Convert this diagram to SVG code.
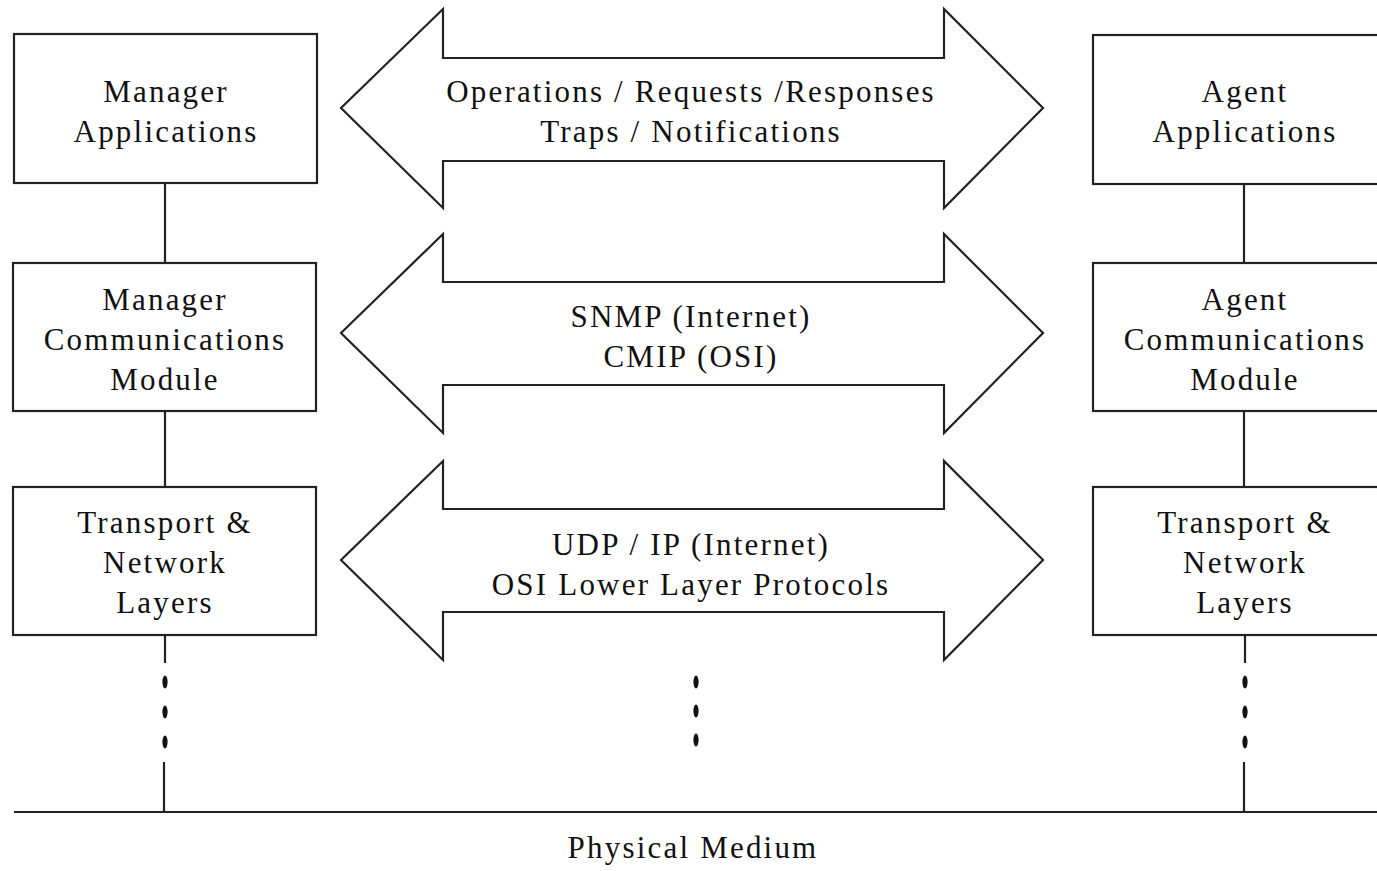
<svg xmlns="http://www.w3.org/2000/svg" width="1377" height="871" viewBox="0 0 1377 871">
  <style>
    .box { fill: #ffffff; stroke: #222222; stroke-width: 2.2; }
    .arrow { fill: #ffffff; stroke: #222222; stroke-width: 2.2; stroke-linejoin: miter; }
    .link { stroke: #222222; stroke-width: 2.2; fill: none; }
    .dot { fill: #111111; }
    .lbl { font-family: "Liberation Serif", "Times New Roman", serif; font-size: 31px; fill: #111111; text-anchor: middle; letter-spacing: 2.2px; }
  </style>
  <rect width="1377" height="871" fill="#ffffff"/>

  <!-- vertical stacks and the shared physical medium -->
  <g id="connectors">
    <line class="link" x1="165" y1="183" x2="165" y2="263"/>
    <line class="link" x1="165" y1="411" x2="165" y2="487"/>
    <line class="link" x1="165" y1="635" x2="165" y2="663"/>
    <line class="link" x1="164" y1="762" x2="164" y2="812"/>
    <line class="link" x1="1244" y1="184" x2="1244" y2="263"/>
    <line class="link" x1="1244" y1="411" x2="1244" y2="487"/>
    <line class="link" x1="1245" y1="635" x2="1245" y2="663"/>
    <line class="link" x1="1244" y1="762" x2="1244" y2="812"/>
    <line class="link" x1="14" y1="812" x2="1377" y2="812"/>
    <ellipse class="dot" cx="165" cy="682" rx="2.6" ry="6.5"/>
    <ellipse class="dot" cx="165" cy="712" rx="2.6" ry="6.5"/>
    <ellipse class="dot" cx="165" cy="742" rx="2.6" ry="6.5"/>
    <ellipse class="dot" cx="1245" cy="682" rx="2.6" ry="6.5"/>
    <ellipse class="dot" cx="1245" cy="712" rx="2.6" ry="6.5"/>
    <ellipse class="dot" cx="1245" cy="742" rx="2.6" ry="6.5"/>
    <ellipse class="dot" cx="696" cy="682" rx="2.6" ry="6.5"/>
    <ellipse class="dot" cx="696" cy="711" rx="2.6" ry="6.5"/>
    <ellipse class="dot" cx="696" cy="740" rx="2.6" ry="6.5"/>
  </g>

  <!-- manager side -->
  <g id="manager-applications">
    <rect class="box" x="14" y="34" width="303" height="149"/>
    <text class="lbl" x="166" y="102">Manager</text>
    <text class="lbl" x="166" y="142">Applications</text>
  </g>
  <g id="manager-communications">
    <rect class="box" x="13" y="263" width="303" height="148"/>
    <text class="lbl" x="165" y="310">Manager</text>
    <text class="lbl" x="165" y="350">Communications</text>
    <text class="lbl" x="165" y="390">Module</text>
  </g>
  <g id="manager-transport">
    <rect class="box" x="13" y="487" width="303" height="148"/>
    <text class="lbl" x="165" y="533">Transport &amp;</text>
    <text class="lbl" x="165" y="573">Network</text>
    <text class="lbl" x="165" y="613">Layers</text>
  </g>

  <!-- agent side -->
  <g id="agent-applications">
    <rect class="box" x="1093" y="35" width="303" height="149"/>
    <text class="lbl" x="1245" y="102">Agent</text>
    <text class="lbl" x="1245" y="142">Applications</text>
  </g>
  <g id="agent-communications">
    <rect class="box" x="1093" y="263" width="303" height="148"/>
    <text class="lbl" x="1245" y="310">Agent</text>
    <text class="lbl" x="1245" y="350">Communications</text>
    <text class="lbl" x="1245" y="390">Module</text>
  </g>
  <g id="agent-transport">
    <rect class="box" x="1093" y="487" width="303" height="148"/>
    <text class="lbl" x="1245" y="533">Transport &amp;</text>
    <text class="lbl" x="1245" y="573">Network</text>
    <text class="lbl" x="1245" y="613">Layers</text>
  </g>

  <!-- double-headed exchange arrows -->
  <g id="arrow-operations">
    <polygon class="arrow" points="341,108 443,9 443,58 944,58 944,9 1043,108 944,208 944,161 443,161 443,208"/>
    <text class="lbl" x="691" y="102">Operations / Requests /Responses</text>
    <text class="lbl" x="691" y="142">Traps / Notifications</text>
  </g>
  <g id="arrow-protocols">
    <polygon class="arrow" points="341,333 443,234 443,282 944,282 944,234 1043,333 944,433 944,385 443,385 443,433"/>
    <text class="lbl" x="691" y="327">SNMP (Internet)</text>
    <text class="lbl" x="691" y="367">CMIP (OSI)</text>
  </g>
  <g id="arrow-transport">
    <polygon class="arrow" points="341,560 443,461 443,509 944,509 944,461 1043,560 944,660 944,612 443,612 443,660"/>
    <text class="lbl" x="691" y="555">UDP / IP (Internet)</text>
    <text class="lbl" x="691" y="595">OSI Lower Layer Protocols</text>
  </g>

  <g id="physical-medium">
    <text class="lbl" x="693" y="858">Physical Medium</text>
  </g>
</svg>
